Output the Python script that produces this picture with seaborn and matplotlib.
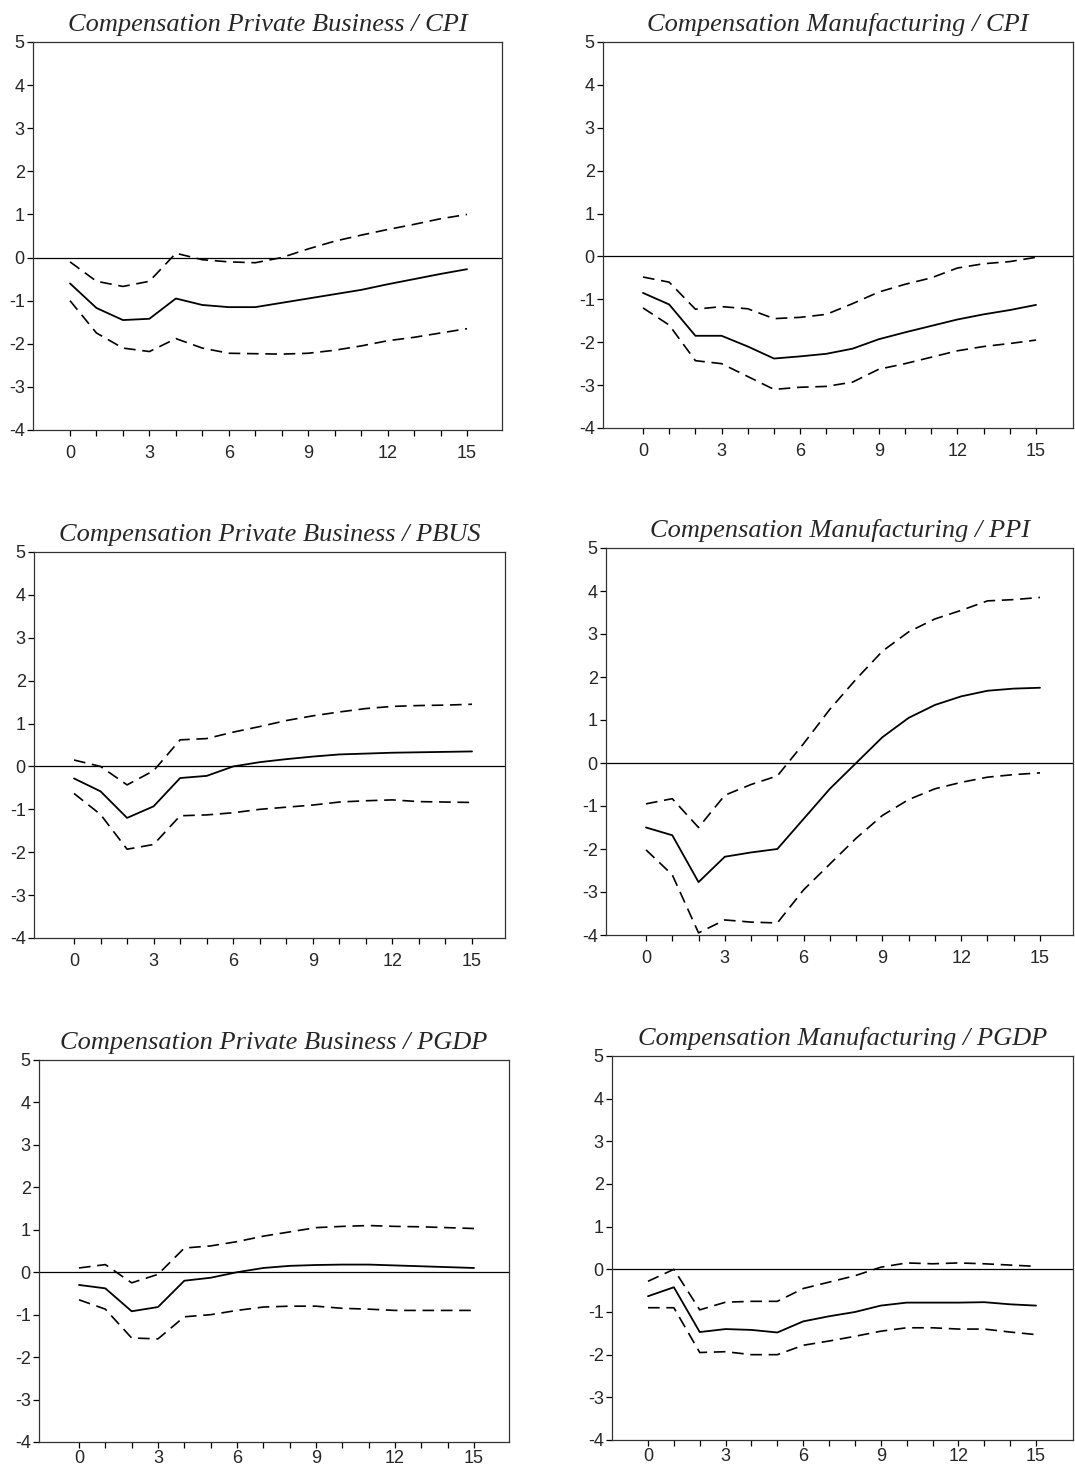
import numpy as np
import pandas as pd
import matplotlib
matplotlib.use("Agg")
import matplotlib.pyplot as plt
import seaborn as sns

sns.set_style("white")
plt.rcParams['font.family'] = ['Liberation Sans', 'DejaVu Sans']

horizon = list(range(16))

titles = [
    "Compensation Private Business / CPI",
    "Compensation Manufacturing / CPI",
    "Compensation Private Business / PBUS",
    "Compensation Manufacturing / PPI",
    "Compensation Private Business / PGDP",
    "Compensation Manufacturing / PGDP",
]

pb_cpi_mid = [-0.6, -1.17, -1.45, -1.42, -0.95, -1.1, -1.15, -1.15, -1.05, -0.95, -0.85, -0.75, -0.62, -0.5, -0.38, -0.27]
pb_cpi_up = [-0.1, -0.55, -0.67, -0.55, 0.1, -0.05, -0.1, -0.12, 0.0, 0.2, 0.38, 0.52, 0.65, 0.77, 0.9, 1.0]
pb_cpi_lo = [-1.0, -1.75, -2.1, -2.18, -1.88, -2.1, -2.22, -2.23, -2.24, -2.22, -2.15, -2.05, -1.93, -1.85, -1.75, -1.65]

mf_cpi_mid = [-0.85, -1.12, -1.85, -1.85, -2.1, -2.38, -2.33, -2.27, -2.15, -1.93, -1.77, -1.62, -1.47, -1.35, -1.25, -1.13]
mf_cpi_up = [-0.48, -0.6, -1.23, -1.17, -1.22, -1.45, -1.42, -1.35, -1.1, -0.83, -0.65, -0.5, -0.27, -0.17, -0.12, -0.02]
mf_cpi_lo = [-1.2, -1.6, -2.43, -2.5, -2.8, -3.1, -3.05, -3.03, -2.93, -2.63, -2.5, -2.35, -2.2, -2.1, -2.03, -1.95]

pb_pbus_mid = [-0.28, -0.58, -1.2, -0.93, -0.27, -0.22, 0.0, 0.1, 0.17, 0.23, 0.28, 0.3, 0.32, 0.33, 0.34, 0.35]
pb_pbus_up = [0.15, 0.0, -0.43, -0.1, 0.62, 0.65, 0.8, 0.93, 1.07, 1.18, 1.27, 1.35, 1.4, 1.42, 1.43, 1.45]
pb_pbus_lo = [-0.63, -1.12, -1.93, -1.82, -1.15, -1.13, -1.08, -1.0, -0.95, -0.9, -0.83, -0.8, -0.78, -0.82, -0.83, -0.84]

mf_ppi_mid = [-1.5, -1.68, -2.77, -2.18, -2.08, -2.0, -1.3, -0.6, 0.0, 0.6, 1.05, 1.35, 1.55, 1.68, 1.73, 1.75]
mf_ppi_up = [-0.95, -0.83, -1.5, -0.75, -0.5, -0.3, 0.45, 1.25, 1.95, 2.6, 3.05, 3.35, 3.55, 3.77, 3.8, 3.85]
mf_ppi_lo = [-2.02, -2.6, -3.95, -3.65, -3.7, -3.72, -2.95, -2.35, -1.75, -1.22, -0.85, -0.6, -0.45, -0.33, -0.27, -0.23]

pb_pgdp_mid = [-0.3, -0.38, -0.92, -0.82, -0.2, -0.13, 0.0, 0.1, 0.15, 0.17, 0.18, 0.18, 0.16, 0.14, 0.12, 0.1]
pb_pgdp_up = [0.1, 0.18, -0.25, -0.05, 0.57, 0.62, 0.72, 0.85, 0.95, 1.05, 1.08, 1.1, 1.08, 1.07, 1.05, 1.03]
pb_pgdp_lo = [-0.65, -0.87, -1.55, -1.57, -1.05, -1.0, -0.9, -0.82, -0.8, -0.8, -0.85, -0.87, -0.9, -0.9, -0.9, -0.9]

mf_pgdp_mid = [-0.63, -0.42, -1.47, -1.4, -1.42, -1.48, -1.22, -1.1, -1.0, -0.85, -0.78, -0.78, -0.78, -0.77, -0.82, -0.85]
mf_pgdp_up = [-0.28, 0.0, -0.95, -0.77, -0.75, -0.75, -0.45, -0.3, -0.15, 0.05, 0.15, 0.13, 0.15, 0.13, 0.1, 0.07]
mf_pgdp_lo = [-0.9, -0.9, -1.95, -1.93, -2.0, -2.0, -1.78, -1.68, -1.57, -1.45, -1.37, -1.37, -1.4, -1.4, -1.47, -1.53]

series = [
    (pb_cpi_mid, pb_cpi_up, pb_cpi_lo),
    (mf_cpi_mid, mf_cpi_up, mf_cpi_lo),
    (pb_pbus_mid, pb_pbus_up, pb_pbus_lo),
    (mf_ppi_mid, mf_ppi_up, mf_ppi_lo),
    (pb_pgdp_mid, pb_pgdp_up, pb_pgdp_lo),
    (mf_pgdp_mid, mf_pgdp_up, mf_pgdp_lo),
]

W, H = 1075, 1472
fig = plt.figure(figsize=(W / 100, H / 100), dpi=100)

# pixel boxes: left, top, right, bottom
boxes = [
    (33, 42, 502, 430),
    (603, 42, 1073, 428),
    (34, 552, 505, 938),
    (606, 548, 1073, 935),
    (39, 1060, 509, 1442),
    (612, 1056, 1073, 1440),
]
# x positions of tick 0 and tick 15 (pixels)
xref = [
    (70, 467),
    (643, 1036),
    (74, 472),
    (646, 1040),
    (79, 474),
    (648, 1036),
]
xpads = [7, 7, 7, 7, 2, 2]

for i, (title, (mid, up, lo)) in enumerate(zip(titles, series)):
    l, t, r, b = boxes[i]
    ax = fig.add_axes([l / W, 1 - b / H, (r - l) / W, (b - t) / H])
    x0p, x15p = xref[i]
    ppu = (x15p - x0p) / 15.0
    xmin = (l - x0p) / ppu
    xmax = (r - x0p) / ppu

    df = pd.DataFrame({"h": horizon, "mid": mid, "up": up, "lo": lo})
    ax.axhline(0, color="black", lw=0.9, zorder=1)
    sns.lineplot(data=df, x="h", y="mid", ax=ax, color="black", lw=1.3)
    sns.lineplot(data=df, x="h", y="up", ax=ax, color="black", lw=1.2, dashes=False,
                 linestyle=(0, (7, 4)))
    sns.lineplot(data=df, x="h", y="lo", ax=ax, color="black", lw=1.2, dashes=False,
                 linestyle=(0, (7, 4)))

    ax.set_xlim(xmin, xmax)
    ax.set_ylim(-4, 5)
    ax.set_xticks(range(0, 16))
    ax.set_xticklabels([str(v) if v % 3 == 0 else "" for v in range(16)])
    ax.set_yticks(range(-4, 6))
    ax.set_yticklabels([str(v) for v in range(-4, 6)])
    ax.set_xlabel("")
    ax.set_ylabel("")
    ax.tick_params(axis="both", direction="out", length=4, width=0.9, color="black",
                   labelsize=13, pad=2, bottom=True, left=True)
    ax.tick_params(axis="x", pad=xpads[i])
    for s in ax.spines.values():
        s.set_color("#333333")
        s.set_linewidth(0.9)
    ax.set_title(title, family=["Liberation Serif", "DejaVu Serif"], style="italic",
                 fontsize=19, pad=8)

fig.savefig("out.png", dpi=100)
